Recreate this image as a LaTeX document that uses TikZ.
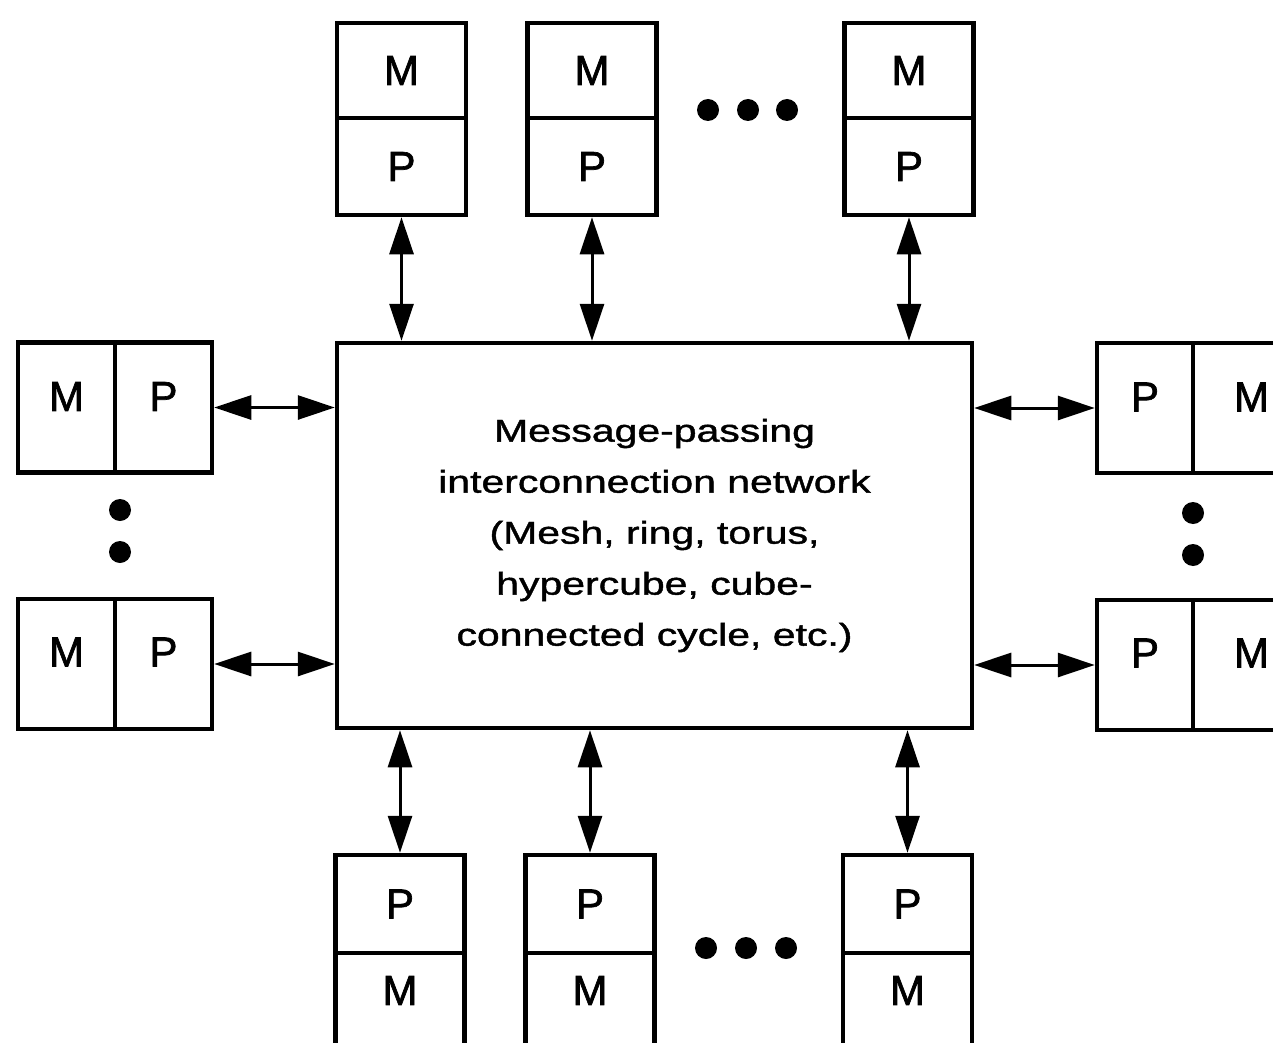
\documentclass[tikz,border=0pt]{standalone}
\usepackage{fontspec}
\setmainfont{Liberation Sans}
\newfontfamily\boxfont[FakeBold=1.6]{Liberation Sans}
\newfontfamily\widefont[FakeStretch=1.3,FakeBold=1.4]{Liberation Sans}
\usetikzlibrary{arrows.meta}
\begin{document}
\begin{tikzpicture}[x=1pt,y=-1pt,
  cell/.style={draw,line width=4.5pt,inner sep=0pt,font=\boxfont\fontsize{42}{50}\selectfont},
  vcell/.style={cell,minimum width=129pt},
  hcell/.style={cell,minimum height=130pt},
  netbox/.style={draw,line width=4.5pt,minimum width=635pt,minimum height=385pt,inner sep=0pt,align=center,
    font=\widefont\fontsize{31.5}{51}\selectfont},
  arr/.style={line width=3pt,{Triangle[length=37pt,width=24pt]}-{Triangle[length=37pt,width=24pt]}},
  dot/.style={fill=black}]
\useasboundingbox (0,0) rectangle (1273,1043);
\clip (0,0) rectangle (1273,1043);
% central network
\node[netbox] (net) at (654.5,535.5) {Message-passing\\interconnection network\\(Mesh, ring, torus,\\hypercube, cube-\\connected cycle, etc.)};
% top boxes
\node[vcell,minimum height=95pt] (t1m) at (401.5,70.5) {M};
\node[vcell,minimum height=97pt] (t1p) at (401.5,166.5) {P};
\node[vcell,minimum height=95pt] (t2m) at (592,70.5) {M};
\node[vcell,minimum height=97pt] (t2p) at (592,166.5) {P};
\node[vcell,minimum height=95pt] (t3m) at (909,70.5) {M};
\node[vcell,minimum height=97pt] (t3p) at (909,166.5) {P};
% bottom boxes
\node[vcell,minimum height=98pt] (b1p) at (400,904) {P};
\node[vcell,minimum height=107pt,text depth=32pt] (b1m) at (400,1006.5) {M};
\node[vcell,minimum height=98pt] (b2p) at (590,904) {P};
\node[vcell,minimum height=107pt,text depth=32pt] (b2m) at (590,1006.5) {M};
\node[vcell,minimum height=98pt] (b3p) at (907.5,904) {P};
\node[vcell,minimum height=107pt,text depth=32pt] (b3m) at (907.5,1006.5) {M};
% left boxes
\node[hcell,minimum width=97pt,text depth=22pt] (l1m) at (66.5,407.5) {M};
\node[hcell,minimum width=97pt,text depth=22pt] (l1p) at (163.5,407.5) {P};
\node[hcell,minimum width=97pt,text depth=24pt] (l2m) at (66.5,664) {M};
\node[hcell,minimum width=97pt,text depth=24pt] (l2p) at (163.5,664) {P};
% right boxes
\node[hcell,minimum width=96pt,text depth=22pt] (r1p) at (1145,408) {P};
\node[hcell,minimum width=120pt,text depth=22pt,text width=94pt,align=left] (r1m) at (1253,408) {\hspace{28pt}M};
\node[hcell,minimum width=96pt,text depth=24pt] (r2p) at (1145,665) {P};
\node[hcell,minimum width=120pt,text depth=24pt,text width=94pt,align=left] (r2m) at (1253,665) {\hspace{28pt}M};
% connectors
\draw[arr] (t1p.south) -- (t1p.south |- net.north);
\draw[arr] (t2p.south) -- (t2p.south |- net.north);
\draw[arr] (t3p.south) -- (t3p.south |- net.north);
\draw[arr] (b1p.north) -- (b1p.north |- net.south);
\draw[arr] (b2p.north) -- (b2p.north |- net.south);
\draw[arr] (b3p.north) -- (b3p.north |- net.south);
\draw[arr] (l1p.east) -- (l1p.east -| net.west);
\draw[arr] (l2p.east) -- (l2p.east -| net.west);
\draw[arr] (r1p.west) -- (r1p.west -| net.east);
\draw[arr] (r2p.west) -- (r2p.west -| net.east);
% ellipsis dots
\foreach \x in {708,748,787} \fill[dot] (\x,110) circle (11pt);
\foreach \x in {706,746,786} \fill[dot] (\x,948) circle (11pt);
\foreach \y in {510,552} \fill[dot] (120,\y) circle (11pt);
\foreach \y in {513,555} \fill[dot] (1193,\y) circle (11pt);
\end{tikzpicture}
\end{document}
